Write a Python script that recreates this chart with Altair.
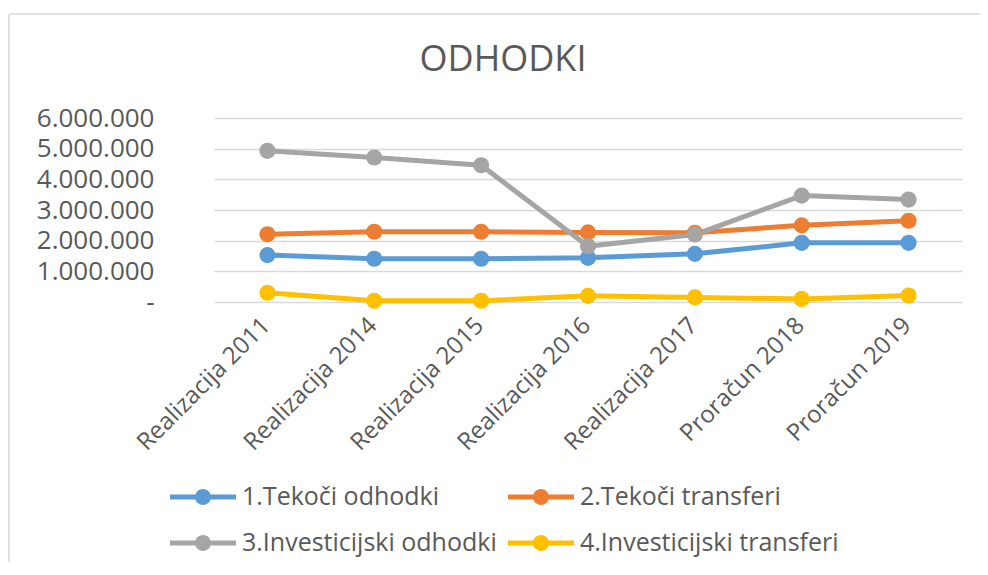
import altair as alt
import pandas as pd

categories = ["Realizacija 2011", "Realizacija 2014", "Realizacija 2015",
              "Realizacija 2016", "Realizacija 2017", "Proračun 2018", "Proračun 2019"]
series_names = ["1.Tekoči odhodki", "2.Tekoči transferi",
                "3.Investicijski odhodki", "4.Investicijski transferi"]
tekoci_odhodki = [1530000, 1410000, 1410000, 1440000, 1570000, 1930000, 1930000]
tekoci_transferi = [2210000, 2290000, 2290000, 2270000, 2260000, 2500000, 2650000]
investicijski_odhodki = [4930000, 4710000, 4460000, 1820000, 2200000, 3470000, 3340000]
investicijski_transferi = [300000, 40000, 40000, 200000, 150000, 100000, 210000]
colors = ["#5B9BD5", "#ED7D31", "#A5A5A5", "#FFC000"]
y_ticks = [0, 1000000, 2000000, 3000000, 4000000, 5000000, 6000000]

series_values = [tekoci_odhodki, tekoci_transferi, investicijski_odhodki, investicijski_transferi]
rows = []
for name, vals in zip(series_names, series_values):
    for cat, v in zip(categories, vals):
        rows.append({"kategorija": cat, "serija": name, "vrednost": v})
df = pd.DataFrame(rows)

FONT = "Open Sans"
TXT = "#595959"
GRID = "#D9D9D9"

x_enc = alt.X("kategorija:N", sort=categories, title=None,
              axis=alt.Axis(labelAngle=-45, labelAlign="right", labelBaseline="top",
                            labelFontSize=24, labelFont=FONT, labelColor=TXT,
                            labelPadding=11, labelOffset=-10, labelLimit=400,
                            domain=False, ticks=False, grid=False))
y_enc = alt.Y("vrednost:Q", title=None,
              scale=alt.Scale(domain=[0, 6000000], nice=False),
              axis=alt.Axis(values=y_ticks, grid=True, gridColor=GRID, gridWidth=1.5,
                            domain=False, ticks=False, labelFontSize=26, labelFont=FONT,
                            labelColor=TXT, labelPadding=60,
                            labelExpr="datum.value == 0 ? '-\u00a0\u00a0\u00a0' : replace(format(datum.value, ','), regexp(',', 'g'), '.')"))

legend_path = ("M-1,-0.076L1,-0.076L1,0.076L-1,0.076Z "
               "M0.242,0A0.242,0.242,0,1,1,-0.242,0A0.242,0.242,0,1,1,0.242,0Z")

color_scale = alt.Scale(domain=series_names, range=colors)
leg = alt.Legend(title=None, orient="none", legendX=-44, legendY=346,
                 direction="horizontal", columns=2,
                 symbolType=legend_path, symbolSize=4356,
                 symbolStrokeWidth=0, labelFontSize=25, labelFont=FONT,
                 labelColor=TXT, labelOffset=6, columnPadding=11,
                 rowPadding=-13, padding=0, labelLimit=400)

base = alt.Chart(df).encode(x=x_enc, y=y_enc,
                            color=alt.Color("serija:N", scale=color_scale, legend=leg))

lines = base.mark_line(strokeWidth=5, strokeCap="round", strokeJoin="round")
points = base.mark_point(filled=True, size=260, opacity=1)

border_df = pd.DataFrame({"k": [0]})
top_border = alt.Chart(border_df).mark_rule(color=GRID, strokeWidth=1.5).encode(
    x=alt.value(-205), x2=alt.value(770), y=alt.value(-104))
left_border = alt.Chart(border_df).mark_rule(color=GRID, strokeWidth=1.5).encode(
    x=alt.value(-205), y=alt.value(-104), y2=alt.value(449))

chart = alt.layer(top_border, left_border, lines, points).properties(
    width=748, height=184,
    autosize=alt.AutoSizeParams(type="none"),
    padding={"left": 206, "top": 110, "right": 18, "bottom": 260},
    title=alt.TitleParams("ODHODKI", anchor="middle", dx=-85, offset=-66,
                          fontSize=36, font=FONT, color=TXT, fontWeight="normal"),
    background="white",
).configure_view(stroke=None)

chart.save("out.html", embed_options={"renderer": "svg", "actions": False})
